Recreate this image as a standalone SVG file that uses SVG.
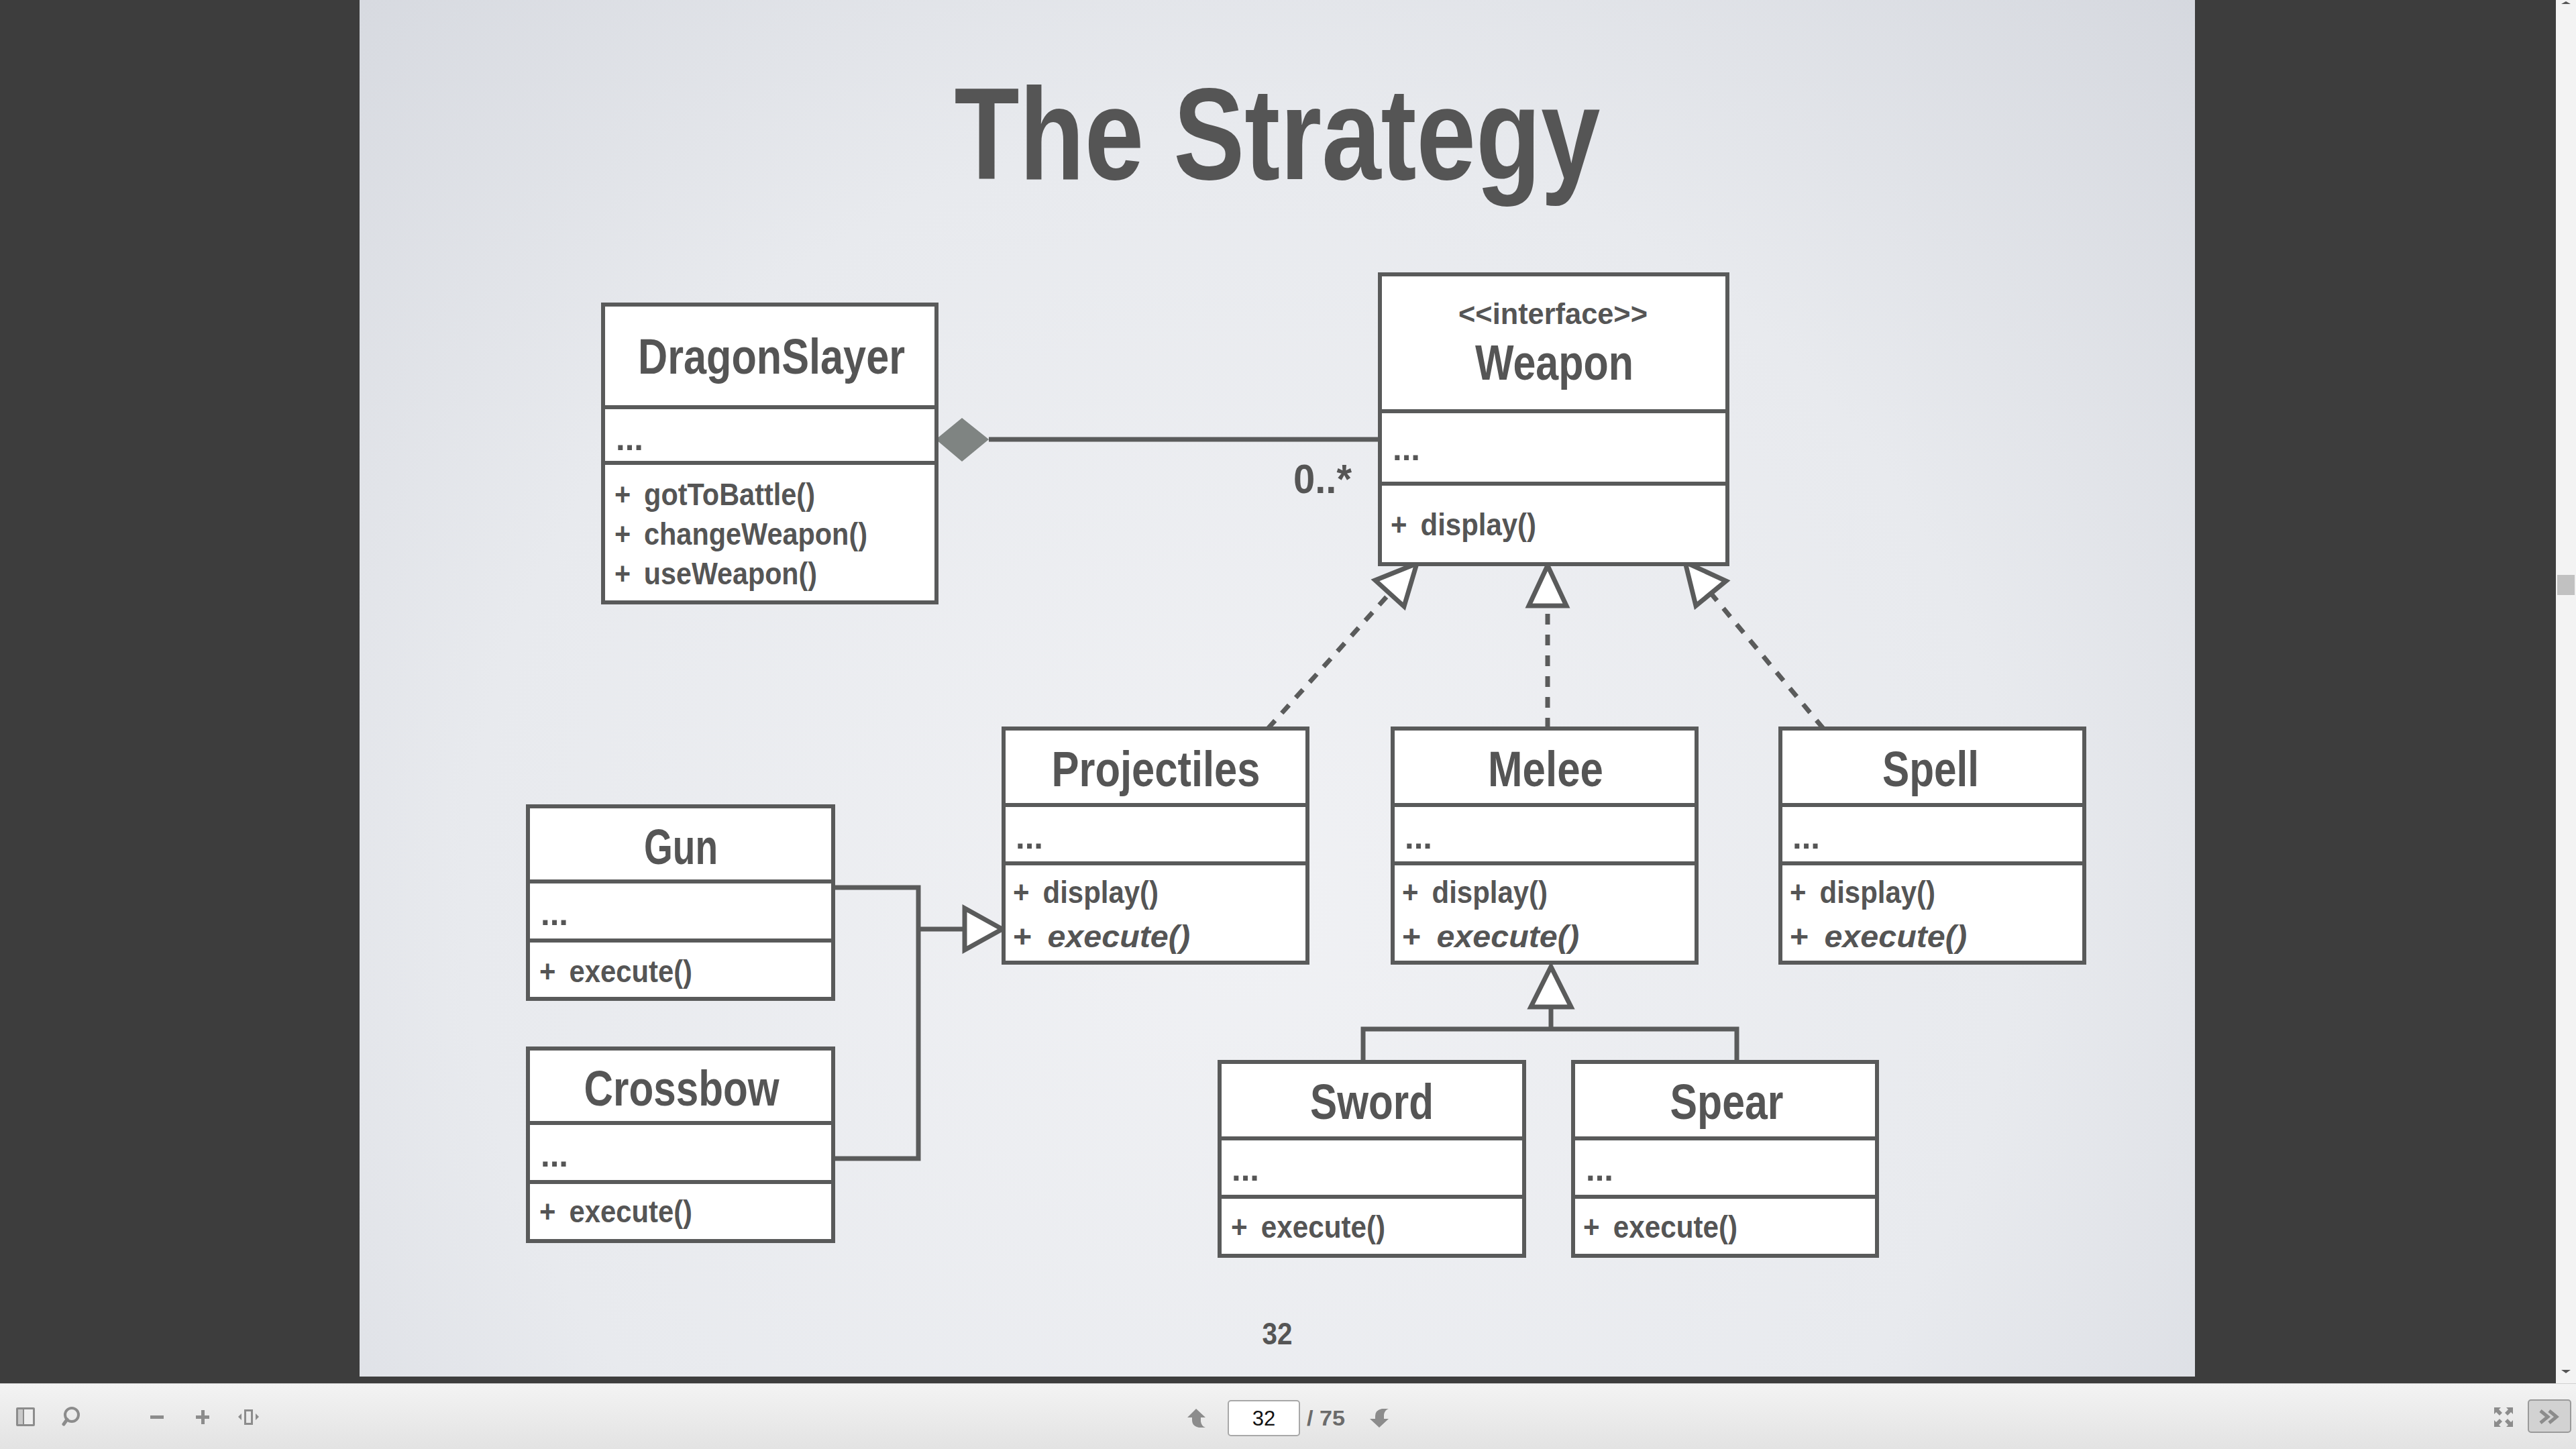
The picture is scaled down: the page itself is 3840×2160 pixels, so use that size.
<svg xmlns="http://www.w3.org/2000/svg" width="3840" height="2160" viewBox="0 0 3840 2160">
  <defs>
    <radialGradient id="slideBg" cx="1850" cy="1350" r="2100" gradientUnits="userSpaceOnUse">
      <stop offset="0" stop-color="#f0f1f4"/>
      <stop offset="0.55" stop-color="#e8eaee"/>
      <stop offset="1" stop-color="#d2d5dc"/>
    </radialGradient>
    <linearGradient id="barBg" x1="0" y1="0" x2="0" y2="1">
      <stop offset="0" stop-color="#f3f3f3"/>
      <stop offset="1" stop-color="#e3e3e3"/>
    </linearGradient>
    <style>
      .box { fill: #ffffff; stroke: #595a5a; stroke-width: 6; }
      .sep { stroke: #595a5a; stroke-width: 6; }
      .txt { font-family: "Liberation Sans", Arial, sans-serif; font-weight: bold; fill: #555555; }
      .name { font-size: 74px; text-anchor: middle; }
      .stereo { font-size: 44px; text-anchor: middle; }
      .mem { font-size: 46px; }
      .dots { font-size: 50px; }
      .it { font-style: italic; }
      .conn { fill: none; stroke: #5a5b5b; stroke-width: 7; }
      .dash { stroke-dasharray: 16 15; }
      .head { fill: #ffffff; stroke: #5a5b5b; stroke-width: 7; stroke-linejoin: miter; }
      .icon { fill: #8c8c8c; }
      .iconline { fill: none; stroke: #8c8c8c; }
    </style>
  </defs>

  <!-- viewer backdrop -->
  <rect x="0" y="0" width="3840" height="2160" fill="#3d3d3d"/>

  <!-- slide -->
  <rect x="536" y="0" width="2736" height="2052" fill="url(#slideBg)"/>

  <text class="txt" x="1904" y="267" font-size="194" text-anchor="middle" textLength="963" lengthAdjust="spacingAndGlyphs">The Strategy</text>

  <!-- connectors -->
  <g id="connectors">
    <!-- DragonSlayer composition of Weapon -->
    <line class="conn" x1="1474" y1="655" x2="2057" y2="655"/>
    <path d="M1395,655 L1434,623 L1474,655 L1434,688 Z" fill="#7f8482"/>
    <text class="txt" x="2015" y="735" font-size="62" text-anchor="end" textLength="87" lengthAdjust="spacingAndGlyphs">0..*</text>

    <!-- realizations of Weapon -->
    <line class="conn dash" x1="1890" y1="1086" x2="2072" y2="884"/>
    <path class="head" d="M2112,840 L2050,865 L2093,904 Z"/>
    <line class="conn dash" x1="2307" y1="1086" x2="2307" y2="903"/>
    <path class="head" d="M2307,843 L2279,903 L2335,903 Z"/>
    <line class="conn dash" x1="2718" y1="1086" x2="2550" y2="884"/>
    <path class="head" d="M2512,838 L2528,903 L2573,866 Z"/>

    <!-- Gun and Crossbow generalize Projectiles -->
    <polyline class="conn" points="1242,1323 1369,1323 1369,1727 1242,1727"/>
    <line class="conn" x1="1369" y1="1385" x2="1438" y2="1385"/>
    <path class="head" d="M1494,1385 L1438,1354 L1438,1416 Z"/>

    <!-- Sword and Spear generalize Melee -->
    <polyline class="conn" points="2032,1583 2032,1534 2589,1534 2589,1583"/>
    <line class="conn" x1="2312" y1="1534" x2="2312" y2="1501"/>
    <path class="head" d="M2312,1441 L2282,1501 L2342,1501 Z"/>
  </g>

  <g id="DragonSlayer">
    <rect class="box" x="899" y="454" width="497" height="444"/>
    <line class="sep" x1="899" y1="607" x2="1396" y2="607"/>
    <line class="sep" x1="899" y1="690" x2="1396" y2="690"/>
    <text class="txt name" x="1150" y="557" textLength="398" lengthAdjust="spacingAndGlyphs">DragonSlayer</text>
    <text class="txt dots" x="918" y="671" textLength="41" lengthAdjust="spacingAndGlyphs">...</text>
    <text class="txt mem" x="916" y="753" textLength="299" lengthAdjust="spacingAndGlyphs">+<tspan dx="22">gotToBattle()</tspan></text>
    <text class="txt mem" x="916" y="812" textLength="377" lengthAdjust="spacingAndGlyphs">+<tspan dx="22">changeWeapon()</tspan></text>
    <text class="txt mem" x="916" y="871" textLength="302" lengthAdjust="spacingAndGlyphs">+<tspan dx="22">useWeapon()</tspan></text>
  </g>

  <g id="Weapon">
    <rect class="box" x="2057" y="409" width="518" height="432"/>
    <line class="sep" x1="2057" y1="613" x2="2575" y2="613"/>
    <line class="sep" x1="2057" y1="721" x2="2575" y2="721"/>
    <text class="txt stereo" x="2315" y="483" textLength="282" lengthAdjust="spacingAndGlyphs">&lt;&lt;interface&gt;&gt;</text>
    <text class="txt name" x="2317" y="566" textLength="236" lengthAdjust="spacingAndGlyphs">Weapon</text>
    <text class="txt dots" x="2076" y="686" textLength="41" lengthAdjust="spacingAndGlyphs">...</text>
    <text class="txt mem" x="2073" y="798" textLength="217" lengthAdjust="spacingAndGlyphs">+<tspan dx="22">display()</tspan></text>
  </g>

  <g id="Projectiles">
    <rect class="box" x="1496" y="1086" width="453" height="349"/>
    <line class="sep" x1="1496" y1="1200" x2="1949" y2="1200"/>
    <line class="sep" x1="1496" y1="1287" x2="1949" y2="1287"/>
    <text class="txt name" x="1723" y="1172" textLength="311" lengthAdjust="spacingAndGlyphs">Projectiles</text>
    <text class="txt dots" x="1514" y="1265" textLength="41" lengthAdjust="spacingAndGlyphs">...</text>
    <text class="txt mem" x="1510" y="1346" textLength="217" lengthAdjust="spacingAndGlyphs">+<tspan dx="22">display()</tspan></text>
    <text class="txt mem" x="1510" y="1412" textLength="264" lengthAdjust="spacingAndGlyphs">+<tspan class="it" dx="22">execute()</tspan></text>
  </g>

  <g id="Melee">
    <rect class="box" x="2076" y="1086" width="453" height="349"/>
    <line class="sep" x1="2076" y1="1200" x2="2529" y2="1200"/>
    <line class="sep" x1="2076" y1="1287" x2="2529" y2="1287"/>
    <text class="txt name" x="2304" y="1172" textLength="172" lengthAdjust="spacingAndGlyphs">Melee</text>
    <text class="txt dots" x="2094" y="1265" textLength="41" lengthAdjust="spacingAndGlyphs">...</text>
    <text class="txt mem" x="2090" y="1346" textLength="217" lengthAdjust="spacingAndGlyphs">+<tspan dx="22">display()</tspan></text>
    <text class="txt mem" x="2090" y="1412" textLength="264" lengthAdjust="spacingAndGlyphs">+<tspan class="it" dx="22">execute()</tspan></text>
  </g>

  <g id="Spell">
    <rect class="box" x="2654" y="1086" width="453" height="349"/>
    <line class="sep" x1="2654" y1="1200" x2="3107" y2="1200"/>
    <line class="sep" x1="2654" y1="1287" x2="3107" y2="1287"/>
    <text class="txt name" x="2878" y="1172" textLength="144" lengthAdjust="spacingAndGlyphs">Spell</text>
    <text class="txt dots" x="2672" y="1265" textLength="41" lengthAdjust="spacingAndGlyphs">...</text>
    <text class="txt mem" x="2668" y="1346" textLength="217" lengthAdjust="spacingAndGlyphs">+<tspan dx="22">display()</tspan></text>
    <text class="txt mem" x="2668" y="1412" textLength="264" lengthAdjust="spacingAndGlyphs">+<tspan class="it" dx="22">execute()</tspan></text>
  </g>

  <g id="Gun">
    <rect class="box" x="787" y="1202" width="455" height="287"/>
    <line class="sep" x1="787" y1="1314" x2="1242" y2="1314"/>
    <line class="sep" x1="787" y1="1402" x2="1242" y2="1402"/>
    <text class="txt name" x="1015" y="1288" textLength="110" lengthAdjust="spacingAndGlyphs">Gun</text>
    <text class="txt dots" x="806" y="1379" textLength="41" lengthAdjust="spacingAndGlyphs">...</text>
    <text class="txt mem" x="804" y="1464" textLength="228" lengthAdjust="spacingAndGlyphs">+<tspan dx="22">execute()</tspan></text>
  </g>

  <g id="Crossbow">
    <rect class="box" x="787" y="1563" width="455" height="287"/>
    <line class="sep" x1="787" y1="1674" x2="1242" y2="1674"/>
    <line class="sep" x1="787" y1="1762" x2="1242" y2="1762"/>
    <text class="txt name" x="1016" y="1648" textLength="291" lengthAdjust="spacingAndGlyphs">Crossbow</text>
    <text class="txt dots" x="806" y="1739" textLength="41" lengthAdjust="spacingAndGlyphs">...</text>
    <text class="txt mem" x="804" y="1822" textLength="228" lengthAdjust="spacingAndGlyphs">+<tspan dx="22">execute()</tspan></text>
  </g>

  <g id="Sword">
    <rect class="box" x="1818" y="1583" width="454" height="289"/>
    <line class="sep" x1="1818" y1="1697" x2="2272" y2="1697"/>
    <line class="sep" x1="1818" y1="1784" x2="2272" y2="1784"/>
    <text class="txt name" x="2045" y="1668" textLength="184" lengthAdjust="spacingAndGlyphs">Sword</text>
    <text class="txt dots" x="1836" y="1760" textLength="41" lengthAdjust="spacingAndGlyphs">...</text>
    <text class="txt mem" x="1835" y="1845" textLength="230" lengthAdjust="spacingAndGlyphs">+<tspan dx="22">execute()</tspan></text>
  </g>

  <g id="Spear">
    <rect class="box" x="2345" y="1583" width="453" height="289"/>
    <line class="sep" x1="2345" y1="1697" x2="2798" y2="1697"/>
    <line class="sep" x1="2345" y1="1784" x2="2798" y2="1784"/>
    <text class="txt name" x="2574" y="1668" textLength="169" lengthAdjust="spacingAndGlyphs">Spear</text>
    <text class="txt dots" x="2364" y="1760" textLength="41" lengthAdjust="spacingAndGlyphs">...</text>
    <text class="txt mem" x="2360" y="1845" textLength="230" lengthAdjust="spacingAndGlyphs">+<tspan dx="22">execute()</tspan></text>
  </g>

  <!-- slide number -->
  <text class="txt" x="1904" y="2004" font-size="46" text-anchor="middle" textLength="45" lengthAdjust="spacingAndGlyphs">32</text>

  <!-- vertical scrollbar -->
  <rect x="3810" y="0" width="30" height="2062" fill="#f3f3f3"/>
  <polygon points="3818,6 3832,6 3825,2" fill="#555"/>
  <polygon points="3818,2042 3832,2042 3825,2047" fill="#555"/>
  <rect x="3812" y="857" width="26" height="30" fill="#c1c1c1"/>

  <!-- bottom toolbar -->
  <rect x="0" y="2062" width="3840" height="98" fill="url(#barBg)"/>
  <line x1="0" y1="2062.5" x2="3840" y2="2062.5" stroke="#cfcfcf" stroke-width="1"/>

  <!-- sidebar toggle -->
  <rect x="24" y="2098" width="28" height="28" rx="2" class="icon"/>
  <rect x="27" y="2101" width="7" height="22" fill="#c9c9c9"/>
  <rect x="36" y="2101" width="13" height="22" fill="#eeeeee"/>
  <!-- search -->
  <circle cx="107" cy="2109" r="10" class="iconline" stroke-width="4"/>
  <line x1="100" y1="2116" x2="95" y2="2123" class="iconline" stroke-width="5" stroke-linecap="round"/>
  <!-- zoom out / in -->
  <rect x="224" y="2110" width="20" height="5" class="icon"/>
  <rect x="292" y="2110" width="20" height="5" class="icon"/>
  <rect x="300" y="2102" width="5" height="21" class="icon"/>
  <!-- fit width -->
  <rect x="365.5" y="2102.5" width="10" height="20" class="iconline" stroke-width="3"/>
  <polygon points="355,2112 360,2107 360,2117" class="icon"/>
  <polygon points="386,2112 381,2107 381,2117" class="icon"/>

  <!-- previous page -->
  <path d="M1783,2100 L1797,2113 L1790,2113 L1790,2119 Q1791,2126 1797,2128 L1787,2128 Q1777,2126 1777,2117 L1777,2113 L1770,2113 Z" class="icon"/>
  <!-- page field -->
  <rect x="1831" y="2088" width="106" height="52" rx="4" fill="#ffffff" stroke="#a8a8a8" stroke-width="2"/>
  <text x="1884" y="2125" font-family="Liberation Sans, Arial, sans-serif" font-size="31" text-anchor="middle" fill="#111111">32</text>
  <text x="1948" y="2125" font-family="Liberation Sans, Arial, sans-serif" font-size="31" font-weight="bold" fill="#6b6b6b" textLength="57" lengthAdjust="spacingAndGlyphs">/ 75</text>
  <!-- next page -->
  <path d="M2056,2128 L2070,2115 L2063,2115 L2063,2109 Q2064,2102 2070,2100 L2060,2100 Q2050,2102 2050,2111 L2050,2115 L2042,2115 Z" class="icon"/>

  <!-- fullscreen -->
  <g class="icon">
    <polygon points="3718,2098 3728,2098 3725,2101 3730,2106 3726,2110 3721,2105 3718,2108"/>
    <polygon points="3746,2098 3736,2098 3739,2101 3734,2106 3738,2110 3743,2105 3746,2108"/>
    <polygon points="3718,2127 3728,2127 3725,2124 3730,2119 3726,2115 3721,2120 3718,2117"/>
    <polygon points="3746,2127 3736,2127 3739,2124 3734,2119 3738,2115 3743,2120 3746,2117"/>
  </g>
  <!-- toolbar toggle -->
  <rect x="3769" y="2087" width="63" height="48" rx="4" fill="#d2d2d2" stroke="#9a9a9a" stroke-width="2"/>
  <polyline points="3787,2103 3798,2112 3787,2121" class="iconline" stroke-width="5"/>
  <polyline points="3800,2103 3811,2112 3800,2121" class="iconline" stroke-width="5"/>
</svg>
